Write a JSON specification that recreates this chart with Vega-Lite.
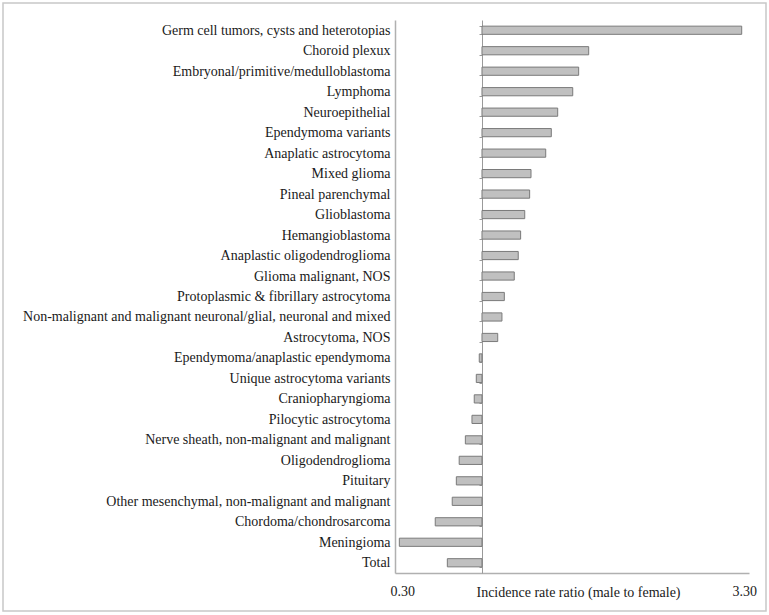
{
  "$schema": "https://vega.github.io/schema/vega-lite/v6.json",
  "width": 763,
  "height": 608,
  "autosize": {"type": "none"},
  "padding": {"left": 3, "top": 3, "right": 3, "bottom": 4},
  "background": "white",
  "config": {
    "view": {"stroke": "#c8c8c8", "strokeWidth": 1.5},
    "font": "Liberation Serif"
  },
  "data": {
    "values": [
      {"category": "Germ cell tumors, cysts and heterotopias", "ratio": 3.278},
      {"category": "Choroid plexux", "ratio": 1.936},
      {"category": "Embryonal/primitive/medulloblastoma", "ratio": 1.848},
      {"category": "Lymphoma", "ratio": 1.796},
      {"category": "Neuroepithelial", "ratio": 1.664},
      {"category": "Ependymoma variants", "ratio": 1.608},
      {"category": "Anaplatic astrocytoma", "ratio": 1.559},
      {"category": "Mixed glioma", "ratio": 1.43},
      {"category": "Pineal parenchymal", "ratio": 1.418},
      {"category": "Glioblastoma", "ratio": 1.375},
      {"category": "Hemangioblastoma", "ratio": 1.339},
      {"category": "Anaplastic oligodendroglioma", "ratio": 1.318},
      {"category": "Glioma malignant, NOS", "ratio": 1.283},
      {"category": "Protoplasmic & fibrillary astrocytoma", "ratio": 1.196},
      {"category": "Non-malignant and malignant neuronal/glial, neuronal and mixed", "ratio": 1.175},
      {"category": "Astrocytoma, NOS", "ratio": 1.138},
      {"category": "Ependymoma/anaplastic ependymoma", "ratio": 0.976},
      {"category": "Unique astrocytoma variants", "ratio": 0.95},
      {"category": "Craniopharyngioma", "ratio": 0.932},
      {"category": "Pilocytic astrocytoma", "ratio": 0.912},
      {"category": "Nerve sheath, non-malignant and malignant", "ratio": 0.854},
      {"category": "Oligodendroglioma", "ratio": 0.8},
      {"category": "Pituitary", "ratio": 0.775},
      {"category": "Other mesenchymal, non-malignant and malignant", "ratio": 0.739},
      {"category": "Chordoma/chondrosarcoma", "ratio": 0.59},
      {"category": "Meningioma", "ratio": 0.275},
      {"category": "Total", "ratio": 0.696}
    ]
  },
  "resolve": {"axis": {"y": "independent"}},
  "layer": [
    {
      "mark": {"type": "point", "opacity": 0},
      "encoding": {
        "y": {
          "field": "category",
          "type": "nominal",
          "sort": null,
          "scale": {"range": [17, 570], "paddingInner": 0.6, "paddingOuter": 0.3},
          "axis": {
            "orient": "left",
            "offset": -392,
            "title": null,
            "labels": false,
            "ticks": false,
            "domainColor": "#b0b0b0",
            "domainWidth": 1.5
          }
        },
        "x": {"datum": 1, "type": "quantitative"}
      }
    },
    {
      "mark": {"type": "bar", "fill": "#c0c0c0", "stroke": "#7a7a7a", "strokeWidth": 1},
      "encoding": {
        "y": {
          "field": "category",
          "type": "nominal",
          "sort": null,
          "axis": {
            "orient": "left",
            "offset": -479,
            "title": null,
            "domainColor": "#9a9a9a",
            "tickColor": "#9a9a9a",
            "tickSize": 3,
            "tickBand": "extent",
            "labelPadding": 89,
            "labelFont": "Liberation Serif",
            "labelFontSize": 14,
            "labelColor": "#1a1a1a",
            "labelLimit": 0
          }
        },
        "x": {
          "field": "ratio",
          "type": "quantitative",
          "scale": {"domain": [0.237, 3.342], "range": [392, 746], "nice": false, "zero": false},
          "axis": {
            "orient": "bottom",
            "offset": -38,
            "values": [0.3, 3.3],
            "format": ".2f",
            "ticks": false,
            "grid": false,
            "domainColor": "#b0b0b0",
            "domainWidth": 1.5,
            "labelPadding": 11,
            "labelFont": "Liberation Serif",
            "labelFontSize": 14,
            "labelColor": "#1a1a1a",
            "title": "Incidence rate ratio (male to female)",
            "titleFont": "Liberation Serif",
            "titleFontSize": 14,
            "titleFontWeight": "normal",
            "titleColor": "#1a1a1a",
            "titleBaseline": "middle",
            "titleY": 19,
            "titleX": 575,
            "titleAlign": "center"
          }
        },
        "x2": {"datum": 1}
      }
    }
  ]
}
